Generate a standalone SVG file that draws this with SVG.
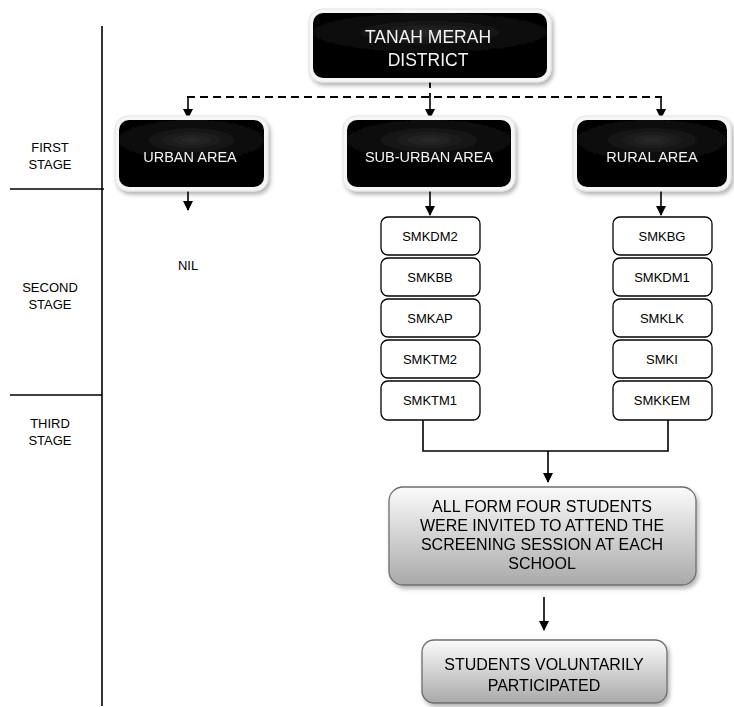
<svg xmlns="http://www.w3.org/2000/svg" width="734" height="707" viewBox="0 0 734 707">
<defs>
<style>
text{font-family:"Liberation Sans",Arial,sans-serif;text-anchor:middle;fill:#000}
.w{fill:#f4f4f4}
.rim{fill:#f6f6f6;stroke:#e2e2e2;stroke-width:1}
.blk{fill:url(#glow)}
.sb{fill:#fff;stroke:#000;stroke-width:1.3}
.gb{fill:url(#gray);stroke:#6e6e6e;stroke-width:1.3}
.ln{fill:none;stroke:#000;stroke-width:1.6}
.dl{fill:none;stroke:#000;stroke-width:1.8;stroke-dasharray:8 5}
</style>
<radialGradient id="glow" cx="0.5" cy="0.3" r="0.55" gradientTransform="translate(0.5 0.3) scale(1 0.6) translate(-0.5 -0.3)">
<stop offset="0" stop-color="#2a2a2a"/>
<stop offset="0.35" stop-color="#1a1a1a"/>
<stop offset="0.7" stop-color="#0a0a0a"/>
<stop offset="1" stop-color="#050505"/>
</radialGradient>
<linearGradient id="gray" x1="0" y1="0" x2="0" y2="1">
<stop offset="0" stop-color="#fbfbfb"/>
<stop offset="1" stop-color="#a9a9a9"/>
</linearGradient>
<filter id="sh" x="-10%" y="-10%" width="125%" height="135%">
<feDropShadow dx="2" dy="3" stdDeviation="2" flood-color="#000" flood-opacity="0.3"/>
</filter>
<marker id="ah" markerWidth="10" markerHeight="10" refX="9" refY="5" orient="auto" markerUnits="userSpaceOnUse">
<path d="M0,0 L10,5 L0,10 Z" fill="#000"/>
</marker>
</defs>
<rect width="734" height="707" fill="#fff"/>

<g id="stages">
<line class="ln" x1="102" y1="26" x2="102" y2="706"/>
<line class="ln" x1="10" y1="189" x2="104" y2="189"/>
<line class="ln" x1="10" y1="395" x2="102" y2="395"/>
<text x="50" y="152" font-size="13">FIRST</text>
<text x="50" y="169" font-size="13">STAGE</text>
<text x="50" y="292" font-size="13">SECOND</text>
<text x="50" y="309" font-size="13">STAGE</text>
<text x="50" y="428" font-size="13">THIRD</text>
<text x="50" y="445" font-size="13">STAGE</text>
</g>

<g id="connectors">
<line class="dl" x1="430" y1="80" x2="430" y2="97"/>
<line class="dl" x1="187" y1="97" x2="662" y2="97"/>
<line class="ln" x1="188" y1="97" x2="188" y2="118" marker-end="url(#ah)"/>
<line class="ln" x1="430" y1="97" x2="430" y2="118" marker-end="url(#ah)"/>
<line class="ln" x1="661" y1="97" x2="661" y2="118" marker-end="url(#ah)"/>
<line class="ln" x1="188" y1="191" x2="188" y2="210" marker-end="url(#ah)"/>
<line class="ln" x1="430" y1="191" x2="430" y2="215" marker-end="url(#ah)"/>
<line class="ln" x1="661" y1="191" x2="661" y2="215" marker-end="url(#ah)"/>
<polyline class="ln" points="423,420 423,451 668,451 668,420"/>
<line class="ln" x1="548" y1="451" x2="548" y2="482" marker-end="url(#ah)"/>
<line class="ln" x1="544" y1="597" x2="544" y2="630" marker-end="url(#ah)"/>
</g>

<g id="n-district" filter="url(#sh)">
<rect class="rim" x="309" y="9" width="242" height="73" rx="13"/>
<rect class="blk" x="313" y="13" width="234" height="65" rx="10"/>
<text class="w" x="428" y="43" font-size="17.5">TANAH MERAH</text>
<text class="w" x="428" y="66" font-size="17.5">DISTRICT</text>
</g>

<g id="n-urban" filter="url(#sh)">
<rect class="rim" x="115" y="116" width="153" height="75" rx="13"/>
<rect class="blk" x="119" y="120" width="145" height="67" rx="10"/>
<text class="w" x="190" y="162" font-size="14.5">URBAN AREA</text>
</g>

<g id="n-suburban" filter="url(#sh)">
<rect class="rim" x="343" y="116" width="172" height="75" rx="13"/>
<rect class="blk" x="347" y="120" width="164" height="67" rx="10"/>
<text class="w" x="429" y="162" font-size="14.5">SUB-URBAN AREA</text>
</g>

<g id="n-rural" filter="url(#sh)">
<rect class="rim" x="573" y="116" width="158" height="75" rx="13"/>
<rect class="blk" x="577" y="120" width="150" height="67" rx="10"/>
<text class="w" x="652" y="162" font-size="14.5">RURAL AREA</text>
</g>

<g id="n-nil"><text x="188" y="270" font-size="13">NIL</text></g>

<g id="n-smkdm2"><rect class="sb" x="381" y="217" width="99" height="38" rx="7"/><text x="430" y="241" font-size="13">SMKDM2</text></g>
<g id="n-smkbb"><rect class="sb" x="381" y="258" width="99" height="38" rx="7"/><text x="430" y="282" font-size="13">SMKBB</text></g>
<g id="n-smkap"><rect class="sb" x="381" y="299" width="99" height="38" rx="7"/><text x="430" y="323" font-size="13">SMKAP</text></g>
<g id="n-smktm2"><rect class="sb" x="381" y="340" width="99" height="38" rx="7"/><text x="430" y="364" font-size="13">SMKTM2</text></g>
<g id="n-smktm1"><rect class="sb" x="381" y="381" width="99" height="39" rx="7"/><text x="430" y="405" font-size="13">SMKTM1</text></g>

<g id="n-smkbg"><rect class="sb" x="613" y="217" width="99" height="38" rx="7"/><text x="662" y="241" font-size="13">SMKBG</text></g>
<g id="n-smkdm1"><rect class="sb" x="613" y="258" width="99" height="38" rx="7"/><text x="662" y="282" font-size="13">SMKDM1</text></g>
<g id="n-smklk"><rect class="sb" x="613" y="299" width="99" height="38" rx="7"/><text x="662" y="323" font-size="13">SMKLK</text></g>
<g id="n-smki"><rect class="sb" x="613" y="340" width="99" height="38" rx="7"/><text x="662" y="364" font-size="13">SMKI</text></g>
<g id="n-smkkem"><rect class="sb" x="613" y="381" width="99" height="39" rx="7"/><text x="662" y="405" font-size="13">SMKKEM</text></g>

<g id="n-invited" filter="url(#sh)">
<rect class="gb" x="389" y="487" width="307" height="98" rx="14"/>
<text x="542" y="512" font-size="16">ALL FORM FOUR STUDENTS</text>
<text x="542" y="531" font-size="16">WERE INVITED TO ATTEND THE</text>
<text x="542" y="550" font-size="16">SCREENING SESSION AT EACH</text>
<text x="542" y="569" font-size="16">SCHOOL</text>
</g>

<g id="n-participated" filter="url(#sh)">
<rect class="gb" x="422" y="640" width="245" height="63" rx="12"/>
<text x="544" y="670" font-size="16">STUDENTS VOLUNTARILY</text>
<text x="544" y="691" font-size="16">PARTICIPATED</text>
</g>
</svg>
